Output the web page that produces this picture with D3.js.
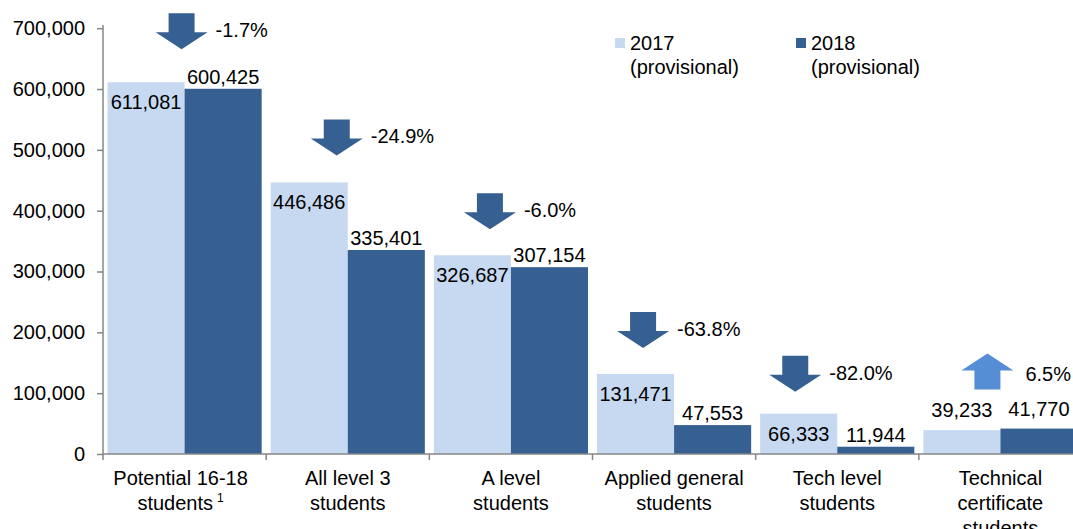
<!DOCTYPE html>
<html>
<head>
<meta charset="utf-8">
<script src="https://cdn.jsdelivr.net/npm/d3@7"></script>
<style>
  body { margin: 0; background: #fff; }
  svg { display: block; font-family: "Liberation Sans", Arial, sans-serif; }
</style>
</head>
<body>
<div id="chart"></div>
<script>
// Data
const categories = ["Potential 16-18 students", "All level 3 students", "A level students",
    "Applied general students", "Tech level students", "Technical certificate students"];
const categoryLines = [
    ["Potential 16-18", "students"],
    ["All level 3", "students"],
    ["A level", "students"],
    ["Applied general", "students"],
    ["Tech level", "students"],
    ["Technical", "certificate", "students"]
];
const seriesNames = ["2017", "2018"];
const values2017 = [611081, 446486, 326687, 131471, 66333, 39233];
const values2018 = [600425, 335401, 307154, 47553, 11944, 41770];
const changeLabels = ["-1.7%", "-24.9%", "-6.0%", "-63.8%", "-82.0%", "6.5%"];
const yTicks = [0, 100000, 200000, 300000, 400000, 500000, 600000, 700000];

// Arrow placement tweaks (layout only)
const arrowShift = [-3, -11, -21, -31, -42, -13];
const arrowGap = [33, 27, 26, 26, 22, 39];

const W = 1073, H = 529;
const colors = { "2017": "#c6d9f1", "2018": "#376092" };
const upColor = "#558ed5";
const axisColor = "#868686";
const fontSize = 20;

const svg = d3.select("#chart").append("svg")
    .attr("width", W).attr("height", H);

const x = d3.scaleBand().domain(categories).range([103, 1082]);
const xSub = d3.scaleBand().domain(seriesNames).range([4.5, x.bandwidth() - 4.5]);
const y = d3.scaleLinear().domain([0, 700000]).range([454, 28.2]);

const rows = categories.map((c, i) => ({
    cat: c, i,
    vals: [{ s: "2017", v: values2017[i] }, { s: "2018", v: values2018[i] }],
    change: changeLabels[i]
}));

// Bars
const groups = svg.selectAll(".cat")
    .data(rows)
    .join("g")
    .attr("class", "cat")
    .attr("transform", d => `translate(${x(d.cat)},0)`);

groups.selectAll("rect")
    .data(d => d.vals)
    .join("rect")
    .attr("x", d => xSub(d.s))
    .attr("width", xSub.bandwidth())
    .attr("y", d => y(d.v))
    .attr("height", d => y(0) - y(d.v))
    .attr("fill", d => colors[d.s]);

// Value labels
groups.each(function(row) {
    const low = d3.max(row.vals, d => d.v) < 45000;
    d3.select(this).selectAll(".val")
        .data(row.vals)
        .join("text")
        .attr("class", "val")
        .attr("x", d => xSub(d.s) + xSub.bandwidth() / 2)
        .attr("y", d => {
            if (low) return y(d.v) - 20;
            return d.s === "2017" ? y(d.v) + 20 : y(d.v) - 12;
        })
        .attr("dy", "0.35em")
        .attr("text-anchor", "middle")
        .style("font-size", fontSize + "px")
        .style("fill", "#000")
        .text(d => d3.format(",")(d.v));
});

// Y axis
const gy = svg.append("g")
    .attr("transform", `translate(${x.range()[0]},0)`)
    .call(d3.axisLeft(y).tickValues(yTicks).tickSize(6).tickPadding(12).tickFormat(d3.format(",")));
gy.select(".domain").attr("stroke", axisColor).attr("stroke-width", 1.5)
    .attr("d", `M0,${y(0)}V25`);
gy.selectAll(".tick line").attr("stroke", axisColor).attr("stroke-width", 1.5);
gy.selectAll("text").style("font-size", fontSize + "px").style("fill", "#000")
    .style("font-family", "'Liberation Sans', Arial, sans-serif");

// X axis
const gx = svg.append("g");
gx.append("line")
    .attr("x1", x.range()[0]).attr("x2", x.range()[1])
    .attr("y1", y(0)).attr("y2", y(0))
    .attr("stroke", axisColor).attr("stroke-width", 1.5);
gx.selectAll(".xtick")
    .data(categories.map(c => x(c)).concat([x.range()[1]]))
    .join("line")
    .attr("class", "xtick")
    .attr("x1", d => d).attr("x2", d => d)
    .attr("y1", y(0)).attr("y2", y(0) + 6)
    .attr("stroke", axisColor).attr("stroke-width", 1.5);

const catLabels = svg.selectAll(".catlabel")
    .data(rows)
    .join("text")
    .attr("class", "catlabel")
    .attr("text-anchor", "middle")
    .style("font-size", fontSize + "px")
    .style("fill", "#000");
catLabels.each(function(row) {
    const t = d3.select(this);
    const cx = x(row.cat) + x.bandwidth() / 2 - (row.i === 0 ? 4 : 0);
    categoryLines[row.i].forEach((line, k) => {
        const ts = t.append("tspan")
            .attr("x", cx)
            .attr("y", 485 + k * 25)
            .text(line);
        if (row.i === 0 && k === 1) {
            t.append("tspan").attr("dx", 4).attr("dy", -8)
                .style("font-size", "12px").text("1");
        }
    });
});

// Change arrows
const shaftW = 26, headW = 52, headH = 17, arrowH = 36;
function downArrow(cx, top) {
    const tip = top + arrowH, ht = tip - headH;
    return `M${cx - shaftW / 2},${top}H${cx + shaftW / 2}V${ht}H${cx + headW / 2}L${cx},${tip}L${cx - headW / 2},${ht}H${cx - shaftW / 2}Z`;
}
function upArrow(cx, bottom) {
    const tip = bottom - arrowH, hb = tip + headH;
    return `M${cx - shaftW / 2},${bottom}H${cx + shaftW / 2}V${hb}H${cx + headW / 2}L${cx},${tip}L${cx - headW / 2},${hb}H${cx - shaftW / 2}Z`;
}

const arrows = svg.selectAll(".change")
    .data(rows)
    .join("g")
    .attr("class", "change");
arrows.each(function(row) {
    const g = d3.select(this);
    const cx = x(row.cat) + x.bandwidth() / 2 + arrowShift[row.i];
    const barTop = y(d3.max(row.vals, d => d.v));
    const up = row.vals[1].v > row.vals[0].v;
    let textY;
    if (up) {
        const bottom = barTop - arrowGap[row.i];
        g.append("path").attr("d", upArrow(cx, bottom)).attr("fill", upColor);
        textY = bottom - 16;
    } else {
        const top = barTop - arrowGap[row.i] - arrowH;
        g.append("path").attr("d", downArrow(cx, top)).attr("fill", colors["2018"]);
        textY = top + 17;
    }
    g.append("text")
        .attr("x", cx + headW / 2 + (up ? 12 : 8))
        .attr("y", textY)
        .attr("dy", "0.35em")
        .style("font-size", fontSize + "px")
        .style("fill", "#000")
        .text(row.change);
});

// Legend
const legend = svg.append("g");
const legendX = [615, 796];
seriesNames.forEach((s, i) => {
    const lg = legend.append("g").attr("transform", `translate(${legendX[i]},0)`);
    lg.append("rect").attr("x", 0).attr("y", 38).attr("width", 10).attr("height", 10)
        .attr("fill", colors[s]);
    const t = lg.append("text").style("font-size", fontSize + "px").style("fill", "#000");
    t.append("tspan").attr("x", 15).attr("y", 50).text(s);
    t.append("tspan").attr("x", 15).attr("y", 74).text("(provisional)");
});
</script>
</body>
</html>
